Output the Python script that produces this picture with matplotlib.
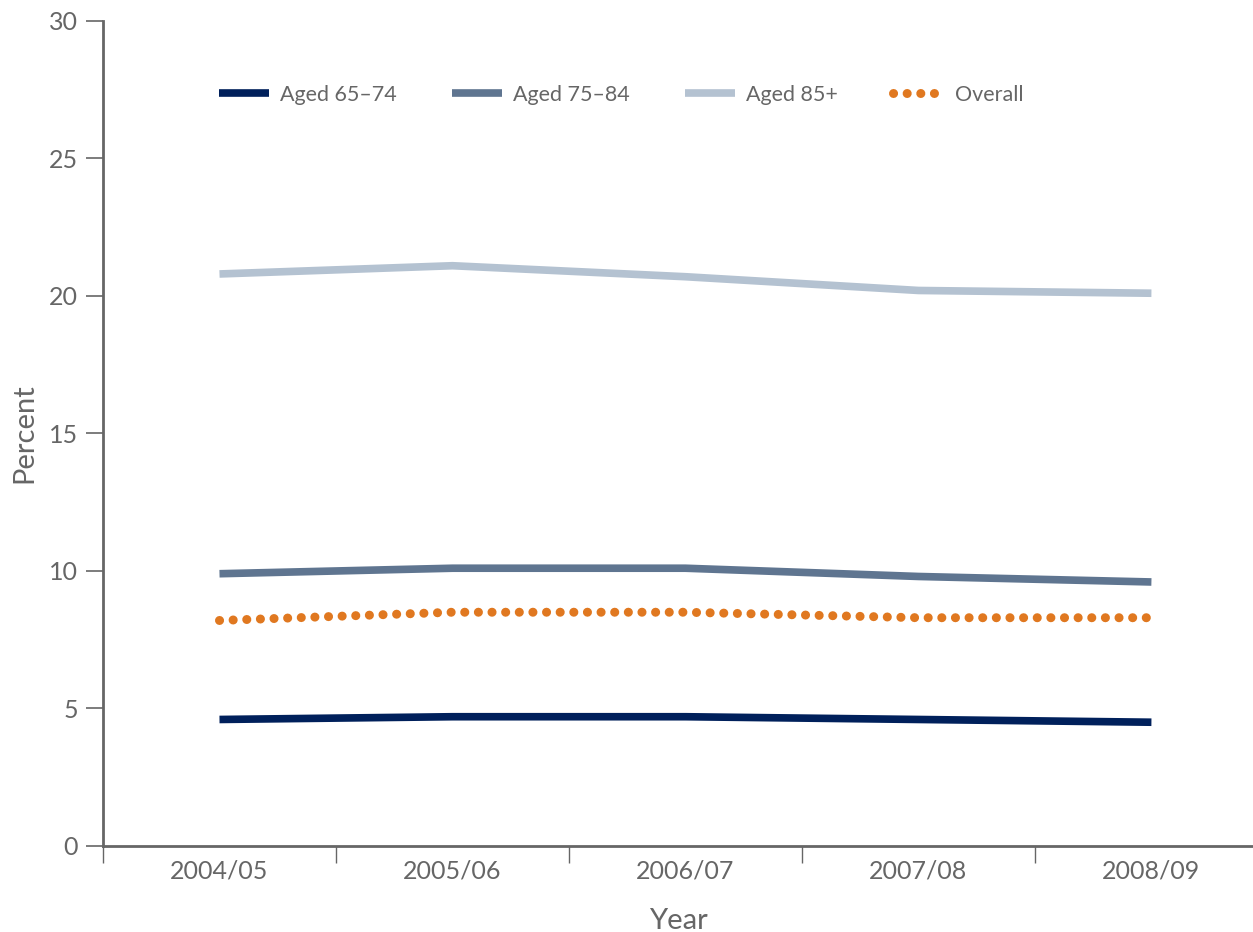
import matplotlib.pyplot as plt
import numpy as np

plt.rcParams["font.family"] = ["Lato", "DejaVu Sans"]

years = ["2004/05", "2005/06", "2006/07", "2007/08", "2008/09"]
aged_65_74 = [4.6, 4.7, 4.7, 4.6, 4.5]
aged_75_84 = [9.9, 10.1, 10.1, 9.8, 9.6]
aged_85_plus = [20.8, 21.1, 20.7, 20.2, 20.1]
overall = [8.2, 8.5, 8.5, 8.3, 8.3]

grey = "#666666"

fig = plt.figure(figsize=(12.53, 9.32), dpi=100)
ax = fig.add_axes([0.0822, 0.0923, 0.9178, 0.8852])

x = np.arange(len(years))
ax.plot(x, aged_65_74, color="#00205B", lw=5.5, label="Aged 65–74", solid_capstyle="butt")
ax.plot(x, aged_75_84, color="#5F7590", lw=5.5, label="Aged 75–84", solid_capstyle="butt")
ax.plot(x, aged_85_plus, color="#B4C2D1", lw=5.5, label="Aged 85+", solid_capstyle="butt")
ax.plot(x, overall, color="#E07820", lw=6.5, linestyle=(0, (0.01, 1.5)),
        dash_capstyle="round", label="Overall")

ax.set_xlim(-0.5, 4.436)
ax.set_ylim(0, 30)
ax.set_yticks([0, 5, 10, 15, 20, 25, 30])

# category labels in the middle, tick marks between categories
ax.set_xticks(x)
ax.set_xticklabels(years)
ax.set_xticks(np.arange(-0.5, 4.0, 1), minor=True)
ax.tick_params(axis="x", which="major", length=0, pad=10, labelsize=18, labelcolor=grey)
ax.tick_params(axis="x", which="minor", length=12, width=1, color=grey)
ax.tick_params(axis="y", length=12, width=1.2, color=grey, pad=6, labelsize=18, labelcolor=grey)

for side in ["top", "right"]:
    ax.spines[side].set_visible(False)
for side in ["left", "bottom"]:
    ax.spines[side].set_color(grey)
    ax.spines[side].set_linewidth(2)

ax.set_xlabel("Year", fontsize=21, color=grey, labelpad=18)
ax.set_ylabel("Percent", fontsize=21, color=grey, labelpad=8)

ax.legend(loc="center left", bbox_to_anchor=(0.1009, 0.9105), ncol=4, frameon=False,
          fontsize=15.5, labelcolor=grey, handlelength=2.3, handletextpad=0.55,
          columnspacing=2.55, borderpad=0, borderaxespad=0)

plt.savefig("out.png", dpi=100)
